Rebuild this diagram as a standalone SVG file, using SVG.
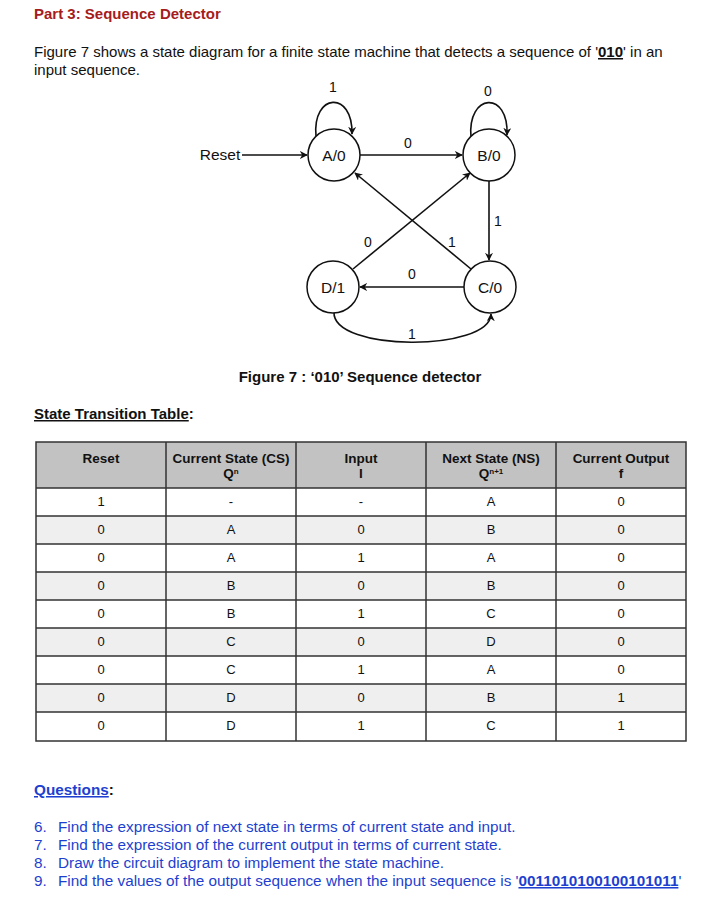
<svg xmlns="http://www.w3.org/2000/svg" width="722" height="912" viewBox="0 0 722 912">
<style>
text{font-family:"Liberation Sans",Arial,sans-serif;fill:#111}
.title{font-size:15px;font-weight:bold;fill:#a61c1c}
.p{font-size:15px}
.q{font-size:15.3px;fill:#1d3fd0}
.b{font-weight:bold}
.u{text-decoration:underline}
.st{fill:#fff;stroke:#111;stroke-width:1.5}
.nl{font-size:15.5px;text-anchor:middle}
.el{font-size:14px;text-anchor:middle}
.edge{fill:none;stroke:#111;stroke-width:1.6}
.th{font-size:13.5px;font-weight:bold;text-anchor:middle}
.td{font-size:13px;text-anchor:middle}
.grid{stroke:#333;stroke-width:1.5;fill:none}
</style>
<defs>
<marker id="ar" viewBox="0 0 10 10" refX="9" refY="5" markerWidth="8" markerHeight="8" orient="auto" markerUnits="userSpaceOnUse">
<path d="M0,0 L10,5 L0,10 L3,5 z" fill="#111"/>
</marker>
</defs>
<rect width="722" height="912" fill="#fff"/>

<text class="title" x="34" y="19">Part 3: Sequence Detector</text>
<text class="p" x="34" y="57">Figure 7 shows a state diagram for a finite state machine that detects a sequence of '<tspan class="b u">010</tspan>' in an</text>
<text class="p" x="34" y="75">input sequence.</text>

<g id="connectors">
<line class="edge" x1="242" y1="155" x2="307" y2="155" marker-end="url(#ar)"/>
<path class="edge" d="M316,136 C312,93 353,90 352,134" marker-end="url(#ar)"/>
<path class="edge" d="M471,137 C467,93 509,90 507,135" marker-end="url(#ar)"/>
<line class="edge" x1="360" y1="155" x2="462" y2="155" marker-end="url(#ar)"/>
<line class="edge" x1="489" y1="181" x2="489" y2="260" marker-end="url(#ar)"/>
<line class="edge" x1="464" y1="287" x2="360" y2="287" marker-end="url(#ar)"/>
<line class="edge" x1="353" y1="269" x2="470" y2="173" marker-end="url(#ar)"/>
<line class="edge" x1="471" y1="269" x2="355" y2="173" marker-end="url(#ar)"/>
<path class="edge" d="M334,312 C332,352 490,352 491,314" marker-end="url(#ar)"/>
<text class="el" x="333" y="92">1</text>
<text class="el" x="488" y="96">0</text>
<text class="el" x="408" y="148">0</text>
<text class="el" x="498" y="226">1</text>
<text class="el" x="412" y="279">0</text>
<text class="el" x="368" y="247">0</text>
<text class="el" x="452" y="247">1</text>
<text class="el" x="412" y="339">1</text>
</g>

<g id="reset"><text class="nl" x="220" y="160">Reset</text></g>
<g id="A"><circle class="st" cx="334" cy="155" r="26"/><text class="nl" x="334" y="160.5">A/0</text></g>
<g id="B"><circle class="st" cx="489" cy="155" r="26"/><text class="nl" x="489" y="160.5">B/0</text></g>
<g id="C"><circle class="st" cx="490" cy="287" r="26"/><text class="nl" x="490" y="292.5">C/0</text></g>
<g id="D"><circle class="st" cx="333" cy="287" r="26"/><text class="nl" x="333" y="292.5">D/1</text></g>

<text x="360" y="382" style="font-size:15px;font-weight:bold;text-anchor:middle">Figure 7 : ‘010’ Sequence detector</text>

<text class="p b" x="34" y="419"><tspan class="u">State Transition Table</tspan>:</text>

<g id="table">
<rect x="36" y="442" width="650" height="46" fill="#c2c2c2"/>
<rect x="36" y="516" width="650" height="28" fill="#efefef"/>
<rect x="36" y="572" width="650" height="28" fill="#efefef"/>
<rect x="36" y="628" width="650" height="28" fill="#efefef"/>
<rect x="36" y="684" width="650" height="28" fill="#efefef"/>
<rect class="grid" x="36" y="442" width="650" height="299"/>
<path class="grid" d="M166,442V741M296,442V741M426,442V741M556,442V741M36,488H686M36,516H686M36,544H686M36,572H686M36,600H686M36,628H686M36,656H686M36,684H686M36,712H686"/>
<text class="th" x="101" y="463">Reset</text>
<text class="th" x="231" y="463">Current State (CS)</text>
<text class="th" x="231" y="478">Q<tspan dy="-4" font-size="8">n</tspan></text>
<text class="th" x="361" y="463">Input</text>
<text class="th" x="361" y="478">I</text>
<text class="th" x="491" y="463">Next State (NS)</text>
<text class="th" x="491" y="478">Q<tspan dy="-4" font-size="8">n+1</tspan></text>
<text class="th" x="621" y="463">Current Output</text>
<text class="th" x="621" y="478">f</text>

<g class="rows">
<text class="td" x="101" y="506">1</text><text class="td" x="231" y="506">-</text><text class="td" x="361" y="506">-</text><text class="td" x="491" y="506">A</text><text class="td" x="621" y="506">0</text>
<text class="td" x="101" y="534">0</text><text class="td" x="231" y="534">A</text><text class="td" x="361" y="534">0</text><text class="td" x="491" y="534">B</text><text class="td" x="621" y="534">0</text>
<text class="td" x="101" y="562">0</text><text class="td" x="231" y="562">A</text><text class="td" x="361" y="562">1</text><text class="td" x="491" y="562">A</text><text class="td" x="621" y="562">0</text>
<text class="td" x="101" y="590">0</text><text class="td" x="231" y="590">B</text><text class="td" x="361" y="590">0</text><text class="td" x="491" y="590">B</text><text class="td" x="621" y="590">0</text>
<text class="td" x="101" y="618">0</text><text class="td" x="231" y="618">B</text><text class="td" x="361" y="618">1</text><text class="td" x="491" y="618">C</text><text class="td" x="621" y="618">0</text>
<text class="td" x="101" y="646">0</text><text class="td" x="231" y="646">C</text><text class="td" x="361" y="646">0</text><text class="td" x="491" y="646">D</text><text class="td" x="621" y="646">0</text>
<text class="td" x="101" y="674">0</text><text class="td" x="231" y="674">C</text><text class="td" x="361" y="674">1</text><text class="td" x="491" y="674">A</text><text class="td" x="621" y="674">0</text>
<text class="td" x="101" y="702">0</text><text class="td" x="231" y="702">D</text><text class="td" x="361" y="702">0</text><text class="td" x="491" y="702">B</text><text class="td" x="621" y="702">1</text>
<text class="td" x="101" y="730">0</text><text class="td" x="231" y="730">D</text><text class="td" x="361" y="730">1</text><text class="td" x="491" y="730">C</text><text class="td" x="621" y="730">1</text>
</g>
</g>

<text class="q b" x="34" y="795"><tspan class="u">Questions</tspan><tspan fill="#111">:</tspan></text>
<text class="q" x="34" y="832">6.</text><text class="q" x="58" y="832">Find the expression of next state in terms of current state and input.</text>
<text class="q" x="34" y="850">7.</text><text class="q" x="58" y="850">Find the expression of the current output in terms of current state.</text>
<text class="q" x="34" y="868">8.</text><text class="q" x="58" y="868">Draw the circuit diagram to implement the state machine.</text>
<text class="q" x="34" y="886">9.</text><text class="q" x="58" y="886">Find the values of the output sequence when the input sequence is '<tspan class="b u">0011010100100101011</tspan>'</text>
</svg>
